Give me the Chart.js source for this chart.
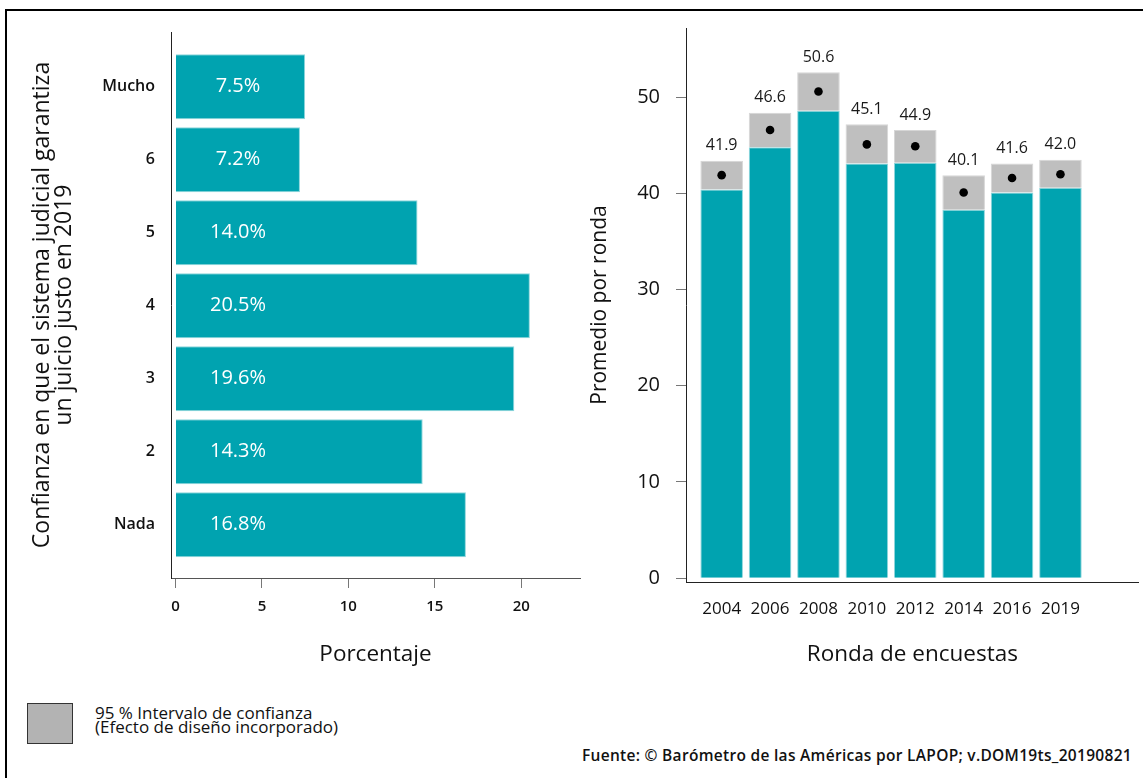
<!DOCTYPE html>
<html><head><meta charset="utf-8">
<script src="https://cdn.jsdelivr.net/npm/chart.js@4.4.1/dist/chart.umd.min.js"></script>
<style>
html,body{margin:0;padding:0;background:#fff;width:1143px;height:778px;overflow:hidden;font-family:'Open Sans',sans-serif;color:#111;}
#frame{position:absolute;left:5px;top:9px;width:1300px;height:900px;border-top:2px solid #000;border-left:2px solid #000;box-sizing:border-box;}
#w1{position:absolute;left:0;top:0;width:600px;height:700px;}
#w2{position:absolute;left:580px;top:0;width:563px;height:700px;}
#legbox{position:absolute;left:27px;top:703px;width:46px;height:41px;background:#b3b3b3;border:1.5px solid #333;box-sizing:border-box;}
#legtxt{position:absolute;left:95px;top:706px;font-size:17px;line-height:13.5px;color:#111;}
#src{position:absolute;right:11px;top:744px;font-size:15.5px;letter-spacing:0.3px;font-weight:600;color:#111;white-space:nowrap;}
</style></head>
<body>
<div id="frame"></div>
<div id="w1"><canvas id="c1" width="600" height="700"></canvas></div>
<div id="w2"><canvas id="c2" width="563" height="700"></canvas></div>
<div id="legbox"></div>
<div id="legtxt">95 % Intervalo de confianza<br>(Efecto de diseño incorporado)</div>
<div id="src">Fuente: © Barómetro de las Américas por LAPOP; v.DOM19ts_20190821</div>
<script>
// ---- data ----
const levels = ['Mucho', '6', '5', '4', '3', '2', 'Nada'];
const percentages = [7.5, 7.2, 14.0, 20.5, 19.6, 14.3, 16.8];
const pctTicks = [0, 5, 10, 15, 20];

const years = ['2004', '2006', '2008', '2010', '2012', '2014', '2016', '2019'];
const means = [41.9, 46.6, 50.6, 45.1, 44.9, 40.1, 41.6, 42.0];
const ciLow = [40.4, 44.8, 48.6, 43.1, 43.2, 38.3, 40.1, 40.6];
const ciHigh = [43.4, 48.4, 52.6, 47.2, 46.6, 41.9, 43.1, 43.5];
const avgTicks = [0, 10, 20, 30, 40, 50];

const yTitle = ['Confianza en que el sistema judicial garantiza', 'un juicio justo en 2019'];

// ---- styles ----
const TEAL = '#00a3b0';
const TEAL_EDGE = '#8fd6dc';
const GREY = '#bfbfbf';
const GREY_EDGE = '#d6d6d6';
const FAM = "'Open Sans', sans-serif";
Chart.defaults.font.family = FAM;
Chart.defaults.color = '#111';

const barLabels = {
  id: 'barLabels',
  afterDatasetsDraw(chart) {
    const meta = chart.getDatasetMeta(0);
    const ctx = chart.ctx;
    ctx.save();
    ctx.fillStyle = '#ffffff';
    ctx.font = "20px " + FAM;
    ctx.textAlign = 'center';
    ctx.textBaseline = 'middle';
    meta.data.forEach((el, i) => {
      ctx.fillText(percentages[i].toFixed(1) + '%', el.base + 62, el.y);
    });
    ctx.restore();
  }
};

new Chart(document.getElementById('c1'), {
  type: 'bar',
  data: {
    datasets: [{
      data: percentages.map((v, i) => ({ x: v, y: i })),
      backgroundColor: TEAL,
      borderColor: TEAL_EDGE,
      borderWidth: 1,
      barPercentage: 0.89,
      categoryPercentage: 1
    }]
  },
  options: {
    indexAxis: 'y',
    responsive: false,
    animation: false,
    events: [],
    layout: { padding: { left: 0, top: 32, right: 20, bottom: 22 } },
    plugins: { legend: { display: false }, tooltip: { enabled: false } },
    scales: {
      x: {
        type: 'linear', min: -0.26, max: 23.4, offset: false,
        afterBuildTicks: s => { s.ticks = pctTicks.map(v => ({ value: v })); },
        afterFit: s => { s.height = 100; },
        grid: { display: true, drawOnChartArea: false, drawTicks: true, tickLength: 10, color: '#777', lineWidth: 1 },
        border: { display: true, color: '#555', width: 1 },
        ticks: { padding: 10, font: { size: 15, weight: '600' }, color: '#111' },
        title: { display: true, text: 'Porcentaje', font: { size: 22.5 }, color: '#111', padding: { top: 0, bottom: 10 } }
      },
      y: {
        type: 'linear', reverse: true, min: -0.75, max: 6.73, offset: false,
        afterBuildTicks: s => { s.ticks = levels.map((l, i) => ({ value: i })); },
        afterFit: s => { s.width = 171; },
        grid: { display: false, drawTicks: false, offset: false },
        border: { display: true, color: '#222', width: 1 },
        ticks: { padding: 16, font: { size: 16, weight: '600' }, color: '#111', callback: v => levels[v] },
        title: { display: true, text: yTitle, font: { size: 23, lineHeight: 0.96 }, color: '#111', padding: { top: 31, bottom: 0 } }
      }
    }
  },
  plugins: [barLabels]
});

const meanLabels = {
  id: 'meanLabels',
  afterDatasetsDraw(chart) {
    const meta = chart.getDatasetMeta(1);
    const ctx = chart.ctx;
    ctx.save();
    ctx.fillStyle = '#1a1a1a';
    ctx.font = "16px " + FAM;
    ctx.textAlign = 'center';
    ctx.textBaseline = 'middle';
    meta.data.forEach((el, i) => {
      const top = Math.min(el.y, el.base);
      ctx.fillText(means[i].toFixed(1), el.x, top - 15);
    });
    ctx.restore();
  }
};

new Chart(document.getElementById('c2'), {
  type: 'bar',
  data: {
    datasets: [
      {
        type: 'bar', order: 3, grouped: false,
        data: ciLow.map((v, i) => ({ x: i, y: v })),
        backgroundColor: TEAL, borderColor: TEAL_EDGE, borderWidth: 1,
        barPercentage: 0.88, categoryPercentage: 1
      },
      {
        type: 'bar', order: 2, grouped: false,
        data: ciLow.map((v, i) => ({ x: i, y: [v, ciHigh[i]] })),
        backgroundColor: GREY, borderColor: GREY_EDGE, borderWidth: 1,
        barPercentage: 0.88, categoryPercentage: 1
      },
      {
        type: 'scatter', order: 1,
        data: means.map((v, i) => ({ x: i, y: v })),
        pointRadius: 4.3, pointBackgroundColor: '#000', pointBorderWidth: 0, showLine: false
      }
    ]
  },
  options: {
    responsive: false,
    animation: false,
    events: [],
    layout: { padding: { left: 0, top: 28, right: 0, bottom: 18 } },
    plugins: { legend: { display: false }, tooltip: { enabled: false } },
    scales: {
      x: {
        type: 'linear', min: -0.737, max: 8.617, offset: false,
        afterBuildTicks: s => { s.ticks = years.map((y, i) => ({ value: i })); },
        afterFit: s => { s.height = 100; },
        grid: { display: false, drawTicks: false, offset: false },
        border: { display: true, color: '#222', width: 1 },
        ticks: { padding: 17, font: { size: 17 }, color: '#111', callback: v => years[v] },
        title: { display: true, text: 'Ronda de encuestas', font: { size: 22.5 }, color: '#111', padding: { top: 0, bottom: 14 } }
      },
      y: {
        type: 'linear', min: -0.4, max: 57.2,
        afterBuildTicks: s => { s.ticks = avgTicks.map(v => ({ value: v })); },
        afterFit: s => { s.width = 106; },
        grid: { display: true, drawOnChartArea: false, drawTicks: true, tickLength: 10, color: '#777', lineWidth: 1 },
        border: { display: true, color: '#222', width: 1 },
        ticks: { padding: 16, font: { size: 20 }, color: '#111' },
        title: { display: true, text: 'Promedio por ronda', font: { size: 21 }, color: '#111', padding: { top: 7, bottom: 0 } }
      }
    }
  },
  plugins: [meanLabels]
});
</script>
</body></html>
